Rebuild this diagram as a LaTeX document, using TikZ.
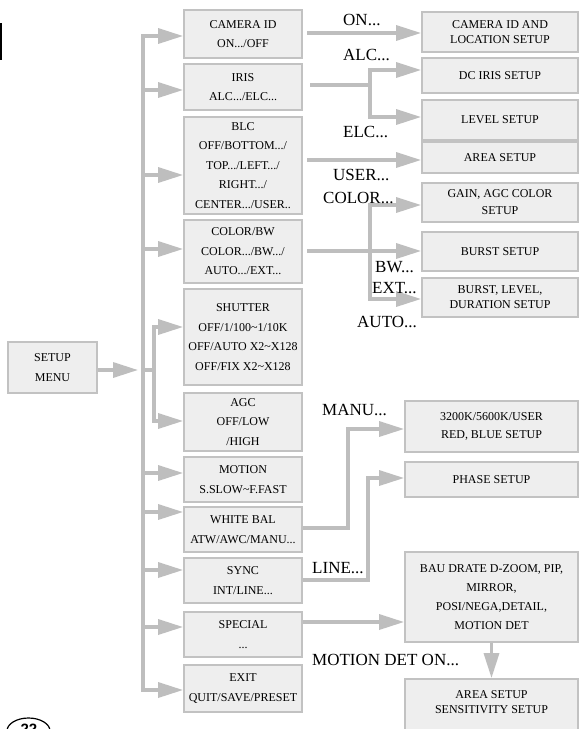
\documentclass[tikz,border=0pt]{standalone}
\usepackage{fontspec}
\setmainfont{Liberation Serif}
\newfontfamily\badgefont{Liberation Sans}
\usetikzlibrary{arrows.meta,calc}
\definecolor{boxfill}{HTML}{EEEEEE}
\definecolor{boxline}{HTML}{C2C2C2}
\definecolor{arrowgray}{HTML}{BEBEBE}
\tikzset{
  box/.style={draw=boxline, fill=boxfill, line width=1.8pt, inner sep=0pt, align=center,
              font=\fontsize{12}{19.5}\selectfont},
  rbox/.style={box, font=\fontsize{12}{15}\selectfont},
  lab/.style={anchor=base west, inner sep=0pt, font=\fontsize{17}{17}\selectfont},
  conn/.style={draw=arrowgray, line width=3.3pt},
  arr/.style={conn, -{Triangle[length=25pt,width=15pt]}},
}
\begin{document}
\begin{tikzpicture}[x=1pt,y=-1pt]
\useasboundingbox (0,0) rectangle (579,729);
\clip (0,0) rectangle (579,729);
\fill[white] (0,0) rectangle (579,729);

% left margin mark and page badge
\draw[black, line width=1.5pt] (0.75,23) -- (0.75,60);
\draw[black, line width=1.2pt] (28.5,731) ellipse [x radius=21.5, y radius=13];
\node[font=\badgefont\bfseries\fontsize{15}{15}\selectfont, inner sep=0pt] (badge) at (29,729) {22};

% root
\node[box, minimum width=89, minimum height=51] (setup) at (52.5,367.5) {SETUP\\MENU};

% middle column
\node[box, minimum width=118, minimum height=48] (cam) at (243,34) {CAMERA ID\\ON.../OFF};
\node[box, minimum width=118, minimum height=46] (iris) at (243,87) {IRIS\\ALC.../ELC...};
\node[box, minimum width=118, minimum height=97] (blc) at (243,165.5) {BLC\\OFF/BOTTOM.../\\TOP.../LEFT.../\\RIGHT.../\\CENTER.../USER..};
\node[box, minimum width=118, minimum height=63] (color) at (243,251.5) {COLOR/BW\\COLOR.../BW.../\\AUTO.../EXT...};
\node[box, minimum width=118, minimum height=96] (shutter) at (243,337) {SHUTTER\\OFF/1/100\textasciitilde 1/10K\\OFF/AUTO X2\textasciitilde X128\\OFF/FIX X2\textasciitilde X128};
\node[box, minimum width=118, minimum height=58] (agc) at (243,422) {AGC\\OFF/LOW\\/HIGH};
\node[box, minimum width=118, minimum height=45] (motion) at (243,479.5) {MOTION\\S.SLOW\textasciitilde F.FAST};
\node[box, minimum width=118, minimum height=45] (wb) at (243,529.5) {WHITE BAL\\ATW/AWC/MANU...};
\node[box, minimum width=118, minimum height=45] (sync) at (243,580.5) {SYNC\\INT/LINE...};
\node[box, minimum width=118, minimum height=45] (special) at (243,634.5) {SPECIAL\\...};
\node[box, minimum width=118, minimum height=47] (exit) at (243,688.5) {EXIT\\QUIT/SAVE/PRESET};

% right column (upper)
\node[rbox, minimum width=156, minimum height=40] (cidloc) at (500,32) {CAMERA ID AND\\LOCATION SETUP};
\node[rbox, minimum width=156, minimum height=35] (dciris) at (500,75.5) {DC IRIS SETUP};
\node[rbox, minimum width=156, minimum height=40] (level) at (500,120) {LEVEL SETUP};
\node[rbox, minimum width=156, minimum height=31] (area) at (500,157.5) {AREA SETUP};
\node[rbox, minimum width=156, minimum height=39, font=\fontsize{12}{17}\selectfont] (gain) at (500,202.5) {GAIN, AGC COLOR\\SETUP};
\node[rbox, minimum width=156, minimum height=39] (burst) at (500,251.5) {BURST SETUP};
\node[rbox, minimum width=156, minimum height=39] (burstlev) at (500,297.5) {BURST, LEVEL,\\DURATION SETUP};

% right column (lower)
\node[rbox, minimum width=173, minimum height=51, font=\fontsize{12}{18}\selectfont] (wbset) at (491.5,426.5) {3200K/5600K/USER\\RED, BLUE SETUP};
\node[rbox, minimum width=173, minimum height=35] (phase) at (491.5,479.5) {PHASE SETUP};
\node[rbox, minimum width=173, minimum height=90, font=\fontsize{12}{19}\selectfont] (bau) at (491.5,597) {BAU DRATE D-ZOOM, PIP,\\MIRROR,\\POSI/NEGA,DETAIL,\\MOTION DET};
\node[rbox, minimum width=173, minimum height=62] (areasens) at (491.5,710) {AREA SETUP\\SENSITIVITY SETUP\\ ~};

% main bus
\coordinate (mb) at (143,370);
\coordinate (bt) at (143,36);
\coordinate (bb) at (143,690);
\draw[arr] (setup.east |- mb) -- (138,370);
\draw[arr] (bb) -- (bt) -- (bt -| cam.west);
\draw[arr] (bt) -- (bb) -- (bb -| exit.west);
\coordinate (b2) at (143,90);
\coordinate (b3) at (143,175);
\coordinate (b4) at (143,249);
\coordinate (b7) at (143,473);
\coordinate (b8) at (143,512);
\coordinate (b9) at (143,570);
\coordinate (b10) at (143,627);
\draw[arr] (b2) -- (b2 -| iris.west);
\draw[arr] (b3) -- (b3 -| blc.west);
\draw[arr] (b4) -- (b4 -| color.west);
\draw[arr] (b7) -- (b7 -| motion.west);
\draw[arr] (b8) -- (b8 -| wb.west);
\draw[arr] (b9) -- (b9 -| sync.west);
\draw[arr] (b10) -- (b10 -| special.west);
% sub-bus for shutter / agc
\coordinate (sb) at (154,370);
\coordinate (s1) at (154,327);
\coordinate (s2) at (154,421);
\draw[conn] (mb) -- (sb);
\draw[arr] (sb) -- (s1) -- (s1 -| shutter.west);
\draw[arr] (sb) -- (s2) -- (s2 -| agc.west);

% right connectors
\coordinate (k1) at (307,33);
\draw[arr] (k1) -- (k1 -| cidloc.west);
\coordinate (k2) at (310,85);
\coordinate (j2) at (370,85);
\coordinate (j2a) at (370,70);
\coordinate (j2b) at (370,117);
\draw[conn] (k2) -- (j2);
\draw[arr] (j2) -- (j2a) -- (j2a -| dciris.west);
\draw[arr] (j2) -- (j2b) -- (j2b -| level.west);
\coordinate (k3) at (307,160);
\draw[arr] (k3) -- (k3 -| area.west);
\coordinate (k4) at (307,251);
\coordinate (j4) at (370,251);
\coordinate (j4a) at (370,205);
\coordinate (j4b) at (370,299);
\draw[arr] (k4) -- (k4 -| burst.west);
\draw[arr] (j4) -- (j4a) -- (j4a -| gain.west);
\draw[arr] (j4) -- (j4b) -- (j4b -| burstlev.west);
\coordinate (k8) at (348,528);
\coordinate (j8) at (348,429);
\draw[arr] (wb.east |- k8) -- (k8) -- (j8) -- (j8 -| wbset.west);
\coordinate (k9) at (368,580);
\coordinate (j9) at (368,478);
\draw[arr] (sync.east |- k9) -- (k9) -- (j9) -- (j9 -| phase.west);
\coordinate (k10) at (305,622);
\draw[arr] (special.east |- k10) -- (k10 -| bau.west);
\draw[arr] (bau.south) -- (areasens.north);

% labels
\node[lab] (lon) at (343,25) {ON...};
\node[lab] (lalc) at (343,60) {ALC...};
\node[lab] (lelc) at (343,137) {ELC...};
\node[lab] (luser) at (333,180) {USER...};
\node[lab] (lcolor) at (323,203) {COLOR...};
\node[lab] (lbw) at (375,272) {BW...};
\node[lab] (lext) at (372,293) {EXT...};
\node[lab] (lauto) at (357,327) {AUTO...};
\node[lab] (lmanu) at (322,415) {MANU...};
\node[lab] (lline) at (312,573) {LINE...};
\node[lab] (lmd) at (312,665) {MOTION DET ON...};
\end{tikzpicture}
\end{document}
